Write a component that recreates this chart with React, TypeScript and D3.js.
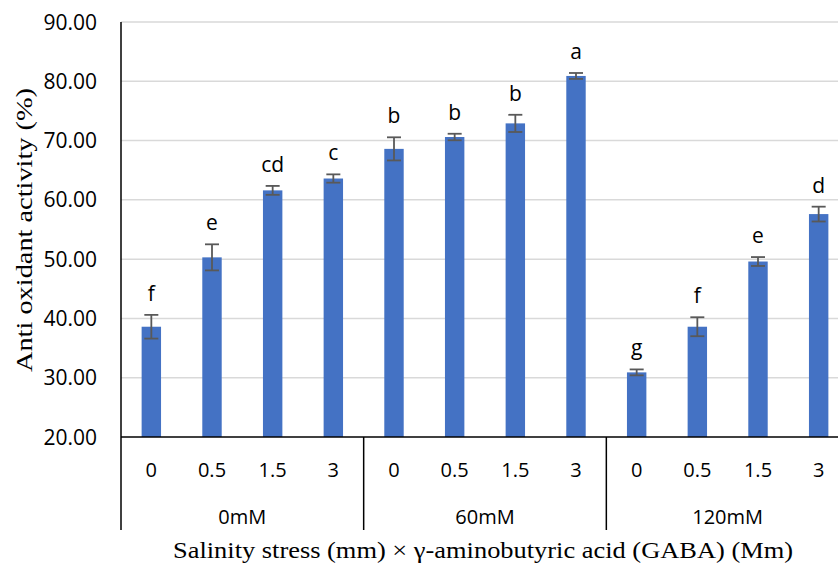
import React from 'react';
import * as d3 from 'd3';

const groups = ['0mM', '60mM', '120mM'];
const gabaLevels = ['0', '0.5', '1.5', '3'];
const values = [38.6, 50.3, 61.6, 63.6, 68.6, 70.6, 72.9, 80.9, 30.9, 38.6, 49.6, 57.6];
const errors = [2.0, 2.2, 0.75, 0.7, 1.95, 0.55, 1.45, 0.5, 0.5, 1.6, 0.75, 1.25];
const letters = ['f', 'e', 'cd', 'c', 'b', 'b', 'b', 'a', 'g', 'f', 'e', 'd'];
const yTicks = [20, 30, 40, 50, 60, 70, 80, 90];

const W = 838;
const H = 563;
const left = 121;
const right = 849;
const top = 22;
const axisY = 437;

export default function App() {
  const keys = values.map((_, i) => `${groups[Math.floor(i / 4)]}-${gabaLevels[i % 4]}`);
  const x = d3.scaleBand<string>().domain(keys).range([left, right]).paddingInner(0.68).paddingOuter(0.34);
  const y = d3.scaleLinear().domain([20, 90]).range([axisY, top]);
  const step = x.step();
  const groupEdge = (g: number) => left + g * 4 * step;

  return (
    <svg width={W} height={H} style={{ position: 'absolute', left: 0, top: 0 }}>
      <rect width={W} height={H} fill="#fff" />
      {yTicks.map(t => (
        <g key={t}>
          {t > 20 && <line x1={left} x2={right} y1={y(t)} y2={y(t)} stroke="#d9d9d9" strokeWidth={1.5} />}
          <text x={97} y={y(t)} dy="0.36em" textAnchor="end" fontFamily="Open Sans" fontSize={21} fill="#000">
            {t.toFixed(2)}
          </text>
        </g>
      ))}
      {values.map((v, i) => {
        const cx = x(keys[i])! + x.bandwidth() / 2;
        const e = errors[i];
        return (
          <g key={i}>
            <rect x={x(keys[i])} y={y(v)} width={x.bandwidth()} height={y(20) - y(v)} fill="#4472c4" />
            <g stroke="#595959" strokeWidth={1.8}>
              <line x1={cx} x2={cx} y1={y(v + e)} y2={y(v - e)} />
              <line x1={cx - 7} x2={cx + 7} y1={y(v + e)} y2={y(v + e)} />
              <line x1={cx - 7} x2={cx + 7} y1={y(v - e)} y2={y(v - e)} />
            </g>
            <text x={cx} y={y(v + e) - 14} textAnchor="middle" fontFamily="Open Sans" fontSize={21} fill="#000">
              {letters[i]}
            </text>
            <text x={cx} y={477} textAnchor="middle" fontFamily="Open Sans" fontSize={20} fill="#000">
              {gabaLevels[i % 4]}
            </text>
          </g>
        );
      })}
      <line x1={left} x2={right} y1={axisY} y2={axisY} stroke="#000" strokeWidth={1.5} />
      <line x1={left} x2={left} y1={top} y2={530} stroke="#000" strokeWidth={1.5} />
      {groups.map((g, gi) => (
        <g key={g}>
          {gi > 0 && <line x1={groupEdge(gi)} x2={groupEdge(gi)} y1={axisY} y2={530} stroke="#000" strokeWidth={1.5} />}
          <text x={(groupEdge(gi) + groupEdge(gi + 1)) / 2} y={524} textAnchor="middle" fontFamily="Open Sans" fontSize={20} fill="#000">
            {g}
          </text>
        </g>
      ))}
      <text
        transform="translate(32,230) rotate(-90)"
        textAnchor="middle"
        fontFamily="Liberation Serif"
        fontSize={24}
        textLength={284}
        lengthAdjust="spacingAndGlyphs"
        fill="#000"
      >
        Anti oxidant activity (%)
      </text>
      <text
        x={483}
        y={558}
        textAnchor="middle"
        fontFamily="Liberation Serif"
        fontSize={23}
        textLength={620}
        lengthAdjust="spacingAndGlyphs"
        fill="#000"
      >
        Salinity stress (mm) × γ-aminobutyric acid (GABA) (Mm)
      </text>
    </svg>
  );
}
